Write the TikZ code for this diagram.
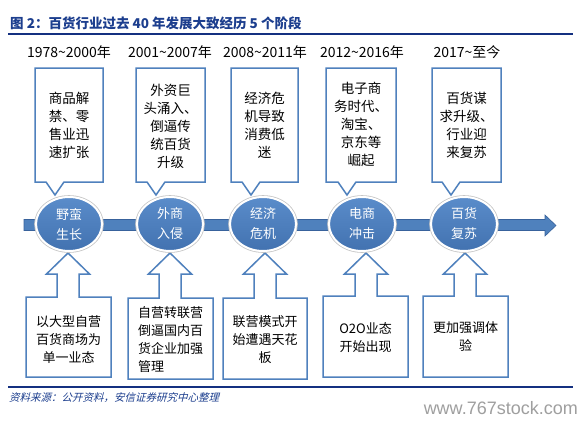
\documentclass[tikz,border=0pt]{standalone}
\usepackage{fontspec}
\setmainfont{Liberation Sans}
\newfontfamily\cjk{Noto Sans CJK SC}
\newfontfamily\cjksl[FakeSlant=0.25]{Noto Sans CJK SC}
\usetikzlibrary{shapes.geometric}
\definecolor{cblue}{RGB}{79,129,189}
\definecolor{bandfill}{RGB}{79,129,189}
\definecolor{banddraw}{RGB}{56,98,156}
\definecolor{navy}{RGB}{20,48,128}
\definecolor{titleblue}{RGB}{28,62,142}
\definecolor{ctop}{RGB}{90,140,202}
\definecolor{cbot}{RGB}{66,114,176}
\begin{document}
\begin{tikzpicture}[x=1pt,y=-1pt,
  callline/.style={draw=cblue, line width=1.5pt, fill=white, line join=miter},
  toptext/.style={font=\cjk\fontsize{13.5}{18}\selectfont, align=center, inner sep=0},
  bottext/.style={font=\cjk\fontsize{13}{18}\selectfont, align=center, inner sep=0},
  yeartext/.style={font=\cjk\fontsize{14}{14}\selectfont, inner sep=0},
  circ/.style={ellipse, minimum width=66pt, minimum height=54pt, inner sep=0,
    top color=ctop, bottom color=cbot, draw=white, line width=2pt,
    text=white, font=\cjk\fontsize{13}{20}\selectfont, align=center,
    preaction={draw=gray!45, line width=3.6pt}}]
\useasboundingbox (0,0) rectangle (580,420);
\fill[white] (0,0) rectangle (580,420);

% title and rules
\node[anchor=west, inner sep=0, text=titleblue, font=\cjk\bfseries\fontsize{13.5}{13.5}\selectfont] (title) at (10,23) {图 2：百货行业过去 40 年发展大致经历 5 个阶段};
\coordinate (rtl) at (8,34);
\coordinate (rtr) at (573,34);
\draw[navy, line width=1.5pt] (rtl) -- (rtr);
\coordinate (rbl) at (8,387);
\coordinate (rbr) at (573,387);
\draw[navy, line width=1.5pt] (rbl) -- (rbr);

% years
\node[yeartext] (y1) at (69,52) {1978\textasciitilde 2000年};
\node[yeartext] (y2) at (170,52) {2001\textasciitilde 2007年};
\node[yeartext] (y3) at (265,52) {2008\textasciitilde 2011年};
\node[yeartext] (y4) at (362,52) {2012\textasciitilde 2016年};
\node[yeartext] (y5) at (467,52) {2017\textasciitilde 至今};

% top callouts
\foreach \L/\R/\P in {35/103/55, 136/205/156, 231/298/251, 326/396/347, 432/501/451}{
  \draw[callline] (\L,68) -- (\R,68) -- (\R,182) -- (\P+9,182) -- (\P,195) -- (\P-9,182) -- (\L,182) -- cycle;
}
\node[toptext] (t1) at (69,125) {商品解\\禁、零\\售业迅\\速扩张};
\node[toptext] (t2) at (170.5,126) {外资巨\\头涌入、\\倒逼传\\统百货\\升级};
\node[toptext] (t3) at (264.5,125) {经济危\\机导致\\消费低\\迷};
\node[toptext] (t4) at (361,124) {电子商\\务时代、\\淘宝、\\京东等\\崛起};
\node[toptext] (t5) at (466.5,125) {百货谋\\求升级、\\行业迎\\来复苏};

% bottom callouts
\foreach \L/\R/\T/\B/\A in {26/111/297/377/68, 128/213/298/379/170, 223/307/298/379/265, 323/408/296/377/366, 423/508/296/377/465}{
  \draw[callline] (\L,\T) -- (\A-11,\T) -- (\A-11,274) -- (\A-21.5,274) -- (\A,253) -- (\A+21.5,274) -- (\A+11,274) -- (\A+11,\T) -- (\R,\T) -- (\R,\B) -- (\L,\B) -- cycle;
}
\node[bottext] (b1) at (68.5,340) {以大型自营\\百货商场为\\单一业态};
\node[bottext, align=left] (b2) at (170.5,340) {自营转联营\\倒逼国内百\\货企业加强\\管理};
\node[bottext] (b3) at (265,340) {联营模式开\\始遭遇天花\\板};
\node[bottext] (b4) at (365.5,338) {O2O业态\\开始出现};
\node[bottext] (b5) at (465.5,337) {更加强调体\\验};

% timeline band
\coordinate (bs) at (24,225);
\coordinate (bt) at (556,225.5);
\draw[fill=bandfill, draw=banddraw, line width=0.6pt, line join=miter]
  (24,219.5) -- (545,219.5) -- (545,215) -- (bt) -- (545,236) -- (545,230.5) -- (24,230.5) -- cycle;

% stage circles
\node[circ] (c1) at (69,224) {野蛮\\生长};
\node[circ] (c2) at (170,224) {外商\\入侵};
\node[circ] (c3) at (263,224) {经济\\危机};
\node[circ] (c4) at (362,224) {电商\\冲击};
\node[circ] (c5) at (464,224) {百货\\复苏};

% footer
\node[anchor=west, inner sep=0, text=titleblue, font=\cjksl\fontsize{10.5}{10.5}\selectfont] (src) at (9,398) {资料来源：公开资料，安信证券研究中心整理};
\node[anchor=east, inner sep=0, text=gray!75, font=\fontsize{18}{18}\selectfont] (wm) at (578,408) {www.767stock.com};
\end{tikzpicture}
\end{document}
